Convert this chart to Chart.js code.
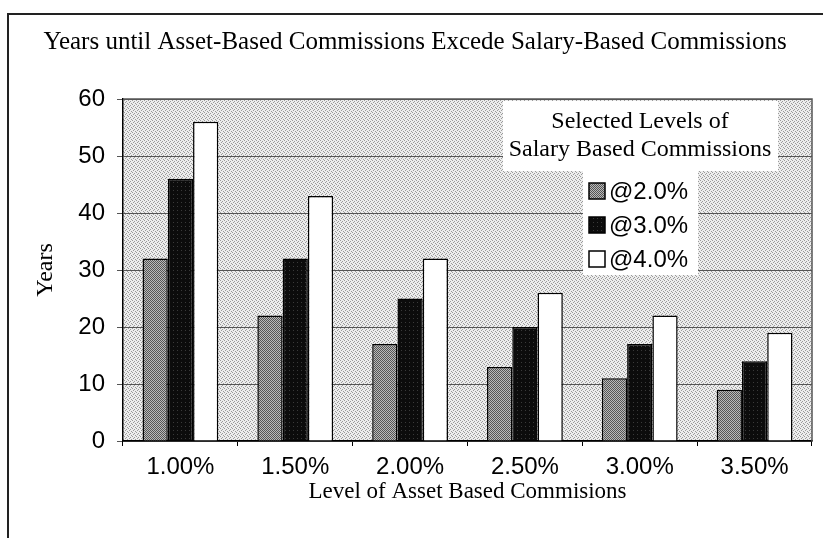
<!DOCTYPE html>
<html>
<head>
<meta charset="utf-8">
<script src="https://cdn.jsdelivr.net/npm/chart.js@4.4.1/dist/chart.umd.min.js"></script>
<style>
  html, body { margin: 0; padding: 0; background: #fff; }
</style>
</head>
<body>
<canvas id="chart" width="823" height="538"></canvas>
<script>
const categories = ['1.00%', '1.50%', '2.00%', '2.50%', '3.00%', '3.50%']
const seriesLabels = ['@2.0%', '@3.0%', '@4.0%']
const at2 = [32, 22, 17, 13, 11, 9]
const at3 = [46, 32, 25, 20, 17, 14]
const at4 = [56, 43, 32, 26, 22, 19]
const legendTitle = ['Selected Levels of', 'Salary Based Commissions']

// small stipple patterns to mimic the scanned halftone
function stipple (base, dot, cells) {
  const c = document.createElement('canvas')
  c.width = 4
  c.height = 4
  const g = c.getContext('2d')
  g.fillStyle = base
  g.fillRect(0, 0, 4, 4)
  g.fillStyle = dot
  cells.forEach(([x, y]) => g.fillRect(x, y, 1, 1))
  return g.createPattern(c, 'repeat')
}

const ctx = document.getElementById('chart').getContext('2d')
const plotFill = stipple('#ededed', '#9a9a9a', [[0, 0], [2, 1], [1, 2], [3, 3]])
const grayFill = stipple('#bababa', '#555555', [[0, 0], [2, 0], [1, 1], [3, 1], [0, 2], [2, 2], [1, 3], [3, 3]])
const blackFill = stipple('#0c0c0c', '#3a3a3a', [[1, 2]])
const fills = [grayFill, blackFill, '#ffffff']

const plotBackground = {
  id: 'plotBackground',
  beforeDraw (chart) {
    const { ctx, chartArea: a } = chart
    ctx.save()
    ctx.fillStyle = plotFill
    ctx.fillRect(a.left, a.top, a.right - a.left, a.bottom - a.top)
    ctx.restore()
  },
  afterDatasetsDraw (chart) {
    const { ctx, chartArea: a } = chart
    ctx.save()
    ctx.strokeStyle = '#555'
    ctx.lineWidth = 1.5
    ctx.beginPath()
    ctx.moveTo(a.left, a.top)
    ctx.lineTo(a.right, a.top)
    ctx.lineTo(a.right, a.bottom)
    ctx.stroke()
    // outer frame
    ctx.strokeStyle = '#222'
    ctx.lineWidth = 2
    ctx.beginPath()
    ctx.moveTo(8, 538)
    ctx.lineTo(8, 14)
    ctx.lineTo(823, 14)
    ctx.stroke()
    ctx.restore()
  }
}

const boxLegend = {
  id: 'boxLegend',
  afterDraw (chart) {
    const { ctx } = chart
    ctx.save()
    ctx.fillStyle = '#fff'
    ctx.fillRect(503, 101, 275, 70)
    ctx.fillRect(583, 170, 115, 105)
    ctx.fillStyle = '#000'
    ctx.textAlign = 'center'
    ctx.textBaseline = 'middle'
    ctx.font = '24px "Liberation Serif"'
    legendTitle.forEach((t, i) => ctx.fillText(t, 640, 122 + i * 28))
    ctx.textAlign = 'left'
    ctx.font = '24px "Liberation Sans"'
    chart.data.datasets.forEach((ds, i) => {
      const y = 191 + i * 34
      ctx.fillStyle = ds.backgroundColor
      ctx.fillRect(589, y - 8, 16, 16)
      ctx.strokeStyle = '#000'
      ctx.lineWidth = 1.5
      ctx.strokeRect(589, y - 8, 16, 16)
      ctx.fillStyle = '#000'
      ctx.fillText(ds.label, 609, y + 1)
    })
    ctx.restore()
  }
}

new Chart(ctx, {
  type: 'bar',
  data: {
    labels: categories,
    datasets: [at2, at3, at4].map((d, i) => ({
      label: seriesLabels[i],
      data: d,
      backgroundColor: fills[i],
      borderColor: '#000',
      borderWidth: 1.5,
      categoryPercentage: 0.66,
      barPercentage: 1
    }))
  },
  options: {
    responsive: false,
    animation: false,
    layout: { padding: { left: 18, right: 11, top: 0, bottom: 0 } },
    plugins: {
      legend: { display: false },
      tooltip: { enabled: false },
      title: {
        display: true,
        text: 'Years until Asset-Based Commissions Excede Salary-Based Commissions',
        color: '#000',
        font: { family: 'Liberation Serif', size: 25, weight: 'normal' },
        padding: { top: 27, bottom: 42 }
      }
    },
    scales: {
      x: {
        afterFit (scale) { scale.height = 97 },
        grid: { drawOnChartArea: false, drawTicks: true, tickLength: 5, color: '#000' },
        border: { color: '#000', width: 1.5 },
        ticks: { color: '#000', padding: 7, font: { family: 'Liberation Sans', size: 24 } },
        title: {
          display: true,
          text: 'Level of Asset Based Commisions',
          color: '#000',
          font: { family: 'Liberation Serif', size: 23 },
          padding: { bottom: 32 }
        }
      },
      y: {
        min: 0,
        max: 60,
        afterFit (scale) { scale.width = 105 },
        grid: { color: '#555', lineWidth: 1, tickLength: 6 },
        border: { color: '#000', width: 1.5 },
        ticks: { stepSize: 10, color: '#000', padding: 12, font: { family: 'Liberation Sans', size: 24 } },
        title: {
          display: true,
          text: 'Years',
          color: '#000',
          font: { family: 'Liberation Serif', size: 24 },
          padding: { top: 13 }
        }
      }
    }
  },
  plugins: [plotBackground, boxLegend]
})
</script>
</body>
</html>
